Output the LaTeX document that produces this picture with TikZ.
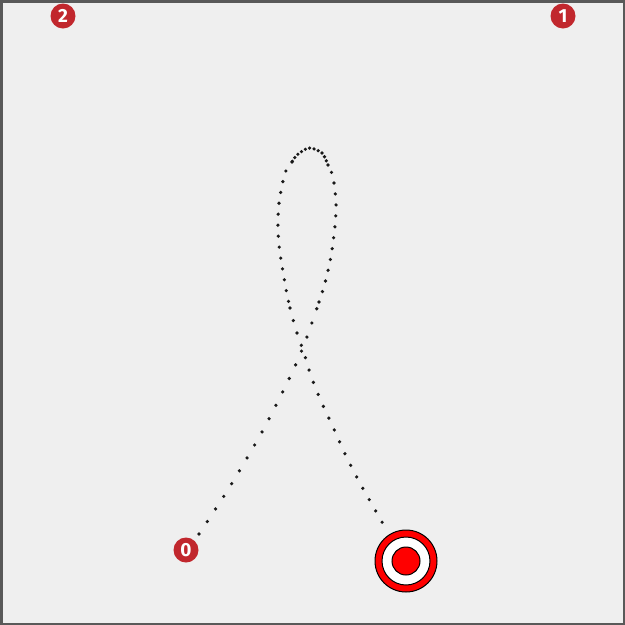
\documentclass[tikz,border=0pt]{standalone}
\usepackage{fontspec}
\setsansfont{Fira Sans}

\definecolor{bggray}{HTML}{EFEFEF}
\definecolor{pinred}{HTML}{C1272D}
\definecolor{goalred}{HTML}{FF0000}

\begin{document}
\begin{tikzpicture}[
    x=1pt, y=-1pt,
    pin/.style={circle, fill=pinred, inner sep=0pt, minimum size=25pt,
        text=white, font=\sffamily\bfseries\fontsize{19}{19}\selectfont},
    ring/.style={circle, draw=black, line width=1pt, inner sep=0pt},
    trail/.style={line width=3.6pt, line cap=round, draw=black!90}
]

% Frame
\fill[bggray] (0,0) rectangle (625,625);
\draw[black!65, line width=2.5pt] (1.25,1.25) rectangle (623.75,623.75);

% Pins
\node[pin] (pin2) at (63,16) {2};
\node[pin] (pin1) at (563,16) {1};
\node[pin] (pin0) at (186,550) {0};

% Goal
\node[ring, fill=goalred, minimum size=62pt] (goal) at (406,561) {};
\node[ring, fill=white, minimum size=48pt] (goalmid) at (goal) {};
\node[ring, fill=goalred, minimum size=28pt] (goalin) at (goal) {};

% Trail: rising leg
\draw[trail, dash pattern=on 0pt off 15pt] plot[smooth] coordinates
    {(199,534) (229,488) (262,432) (289,379) (304,345) (319,302)};

% Trail: loop
\draw[trail, dash pattern=on 0pt off 11pt] plot[smooth] coordinates
    {(319,302) (325,283) (331,256) (335,226) (336,202) (333,177) (328,165)};
\draw[trail, dash pattern=on 0pt off 4.5pt] plot[smooth] coordinates
    {(328,165) (322,153) (309,148) (297,155) (292,162)};
\draw[trail, dash pattern=on 0pt off 11pt] plot[smooth] coordinates
    {(292,162) (285,173) (279,203) (278,230) (280,253) (286,289) (290,308)};

% Trail: falling leg
\draw[trail, dash pattern=on 0pt off 13pt] plot[smooth] coordinates
    {(290,308) (296,330) (304,353) (311,376) (321,401) (333,427)
     (346,456) (361,485) (378,515) (387,531)};

\end{tikzpicture}
\end{document}
